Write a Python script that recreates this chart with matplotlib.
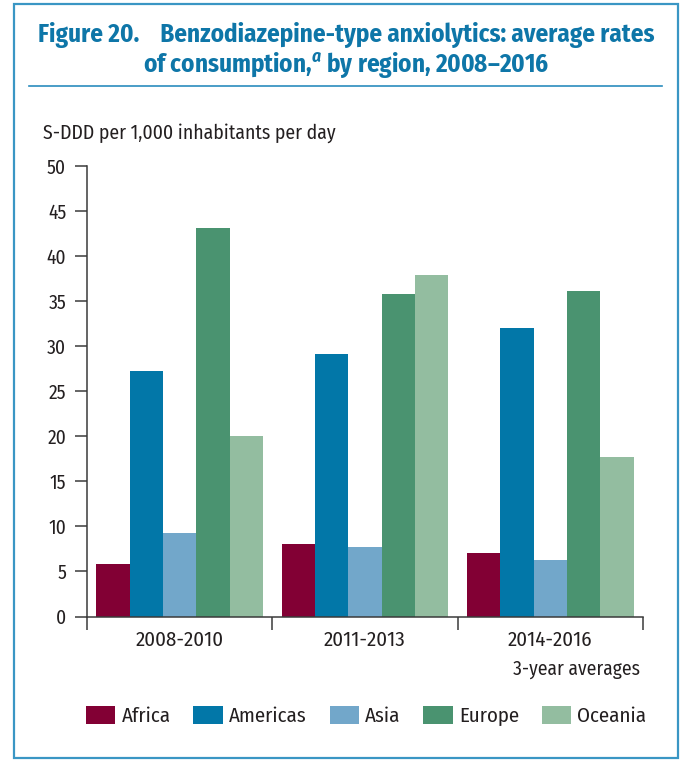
import matplotlib.pyplot as plt
from matplotlib.patches import Rectangle, Patch
from matplotlib.lines import Line2D
import numpy as np

# condensed sans; DejaVu Sans Condensed is the fallback
plt.rcParams['font.family'] = ['Fira Sans Condensed', 'DejaVu Sans']
plt.rcParams['font.stretch'] = 'condensed'
plt.rcParams['mathtext.fontset'] = 'custom'
plt.rcParams['mathtext.it'] = 'Fira Sans Condensed:italic:bold'
plt.rcParams['mathtext.rm'] = 'Fira Sans Condensed:bold'

periods = ['2008-2010', '2011-2013', '2014-2016']
regions = ['Africa', 'Americas', 'Asia', 'Europe', 'Oceania']
africa = [5.85, 8.05, 7.05]
americas = [27.25, 29.15, 32.0]
asia = [9.3, 7.75, 6.3]
europe = [43.1, 35.75, 36.1]
oceania = [20.05, 37.9, 17.65]
series = [africa, americas, asia, europe, oceania]
colors = ['#820034', '#0277A8', '#72A7CA', '#4A9370', '#93BDA0']

W, H = 695, 772
fig = plt.figure(figsize=(W / 100, H / 100), dpi=100)

def fx(px):
    return px / W

def fy(py):
    return 1 - py / H

# frame and title rule
fig.patches.append(Rectangle((fx(14), fy(758)), fx(678) - fx(14), fy(4) - fy(758),
                             transform=fig.transFigure, fill=False,
                             edgecolor='#3A96C4', linewidth=1.6))
fig.lines.append(Line2D([fx(29), fx(662)], [fy(86), fy(86)], transform=fig.transFigure,
                        color='#2A8CBE', linewidth=1.2))

title_color = '#0E76A8'
fig.text(0.498, fy(42.5), 'Figure 20.    Benzodiazepine-type anxiolytics: average rates',
         ha='center', va='baseline', fontsize=18, fontweight='bold', color=title_color)
fig.text(0.498, fy(72), r'of consumption,$^{\mathit{a}}$ by region, 2008–2016',
         ha='center', va='baseline', fontsize=18, fontweight='bold', color=title_color)

ax = fig.add_axes([fx(87), fy(616.5), fx(643) - fx(87), fy(166) - fy(616.5)])

x = np.arange(len(periods)) + 0.5
width = 0.18
for i, (vals, c) in enumerate(zip(series, colors)):
    ax.bar(x + (i - 2) * width, vals, width, color=c, label=regions[i], linewidth=0)

ax.set_xlim(0, 3)
ax.set_ylim(0, 50)
ax.set_yticks(range(0, 51, 5))
ax.set_xticks([0, 1, 2, 3])
ax.set_xticklabels([])
ax.set_xticks(x, minor=True)
ax.set_xticklabels(periods, minor=True, fontsize=15, color='#231F20')

tick_col = '#3A3A3A'
ax.tick_params(axis='y', direction='out', length=9, width=1.1, color=tick_col,
               labelsize=14, labelcolor='#231F20', pad=6)
ax.tick_params(axis='x', which='major', direction='out', length=9, width=1.1, color=tick_col)
ax.tick_params(axis='x', which='minor', length=0, pad=10)

for s in ['top', 'right']:
    ax.spines[s].set_visible(False)
for s in ['left', 'bottom']:
    ax.spines[s].set_color(tick_col)
    ax.spines[s].set_linewidth(1.1)

fig.text(fx(43), fy(139), 'S-DDD per 1,000 inhabitants per day', ha='left', va='baseline',
         fontsize=14.2, color='#231F20')
fig.text(fx(640), fy(675), '3-year averages', ha='right', va='baseline',
         fontsize=14, color='#231F20')

handles = [Patch(facecolor=c, edgecolor='none') for c in colors]
fig.legend(handles, regions, loc='center left', bbox_to_anchor=(fx(86), fy(716)),
           ncol=5, frameon=False, fontsize=15, handlelength=1.4, handleheight=0.95,
           handletextpad=0.3, columnspacing=1.1, borderpad=0, borderaxespad=0,
           labelcolor='#231F20')

fig.savefig('out.png', dpi=100)
